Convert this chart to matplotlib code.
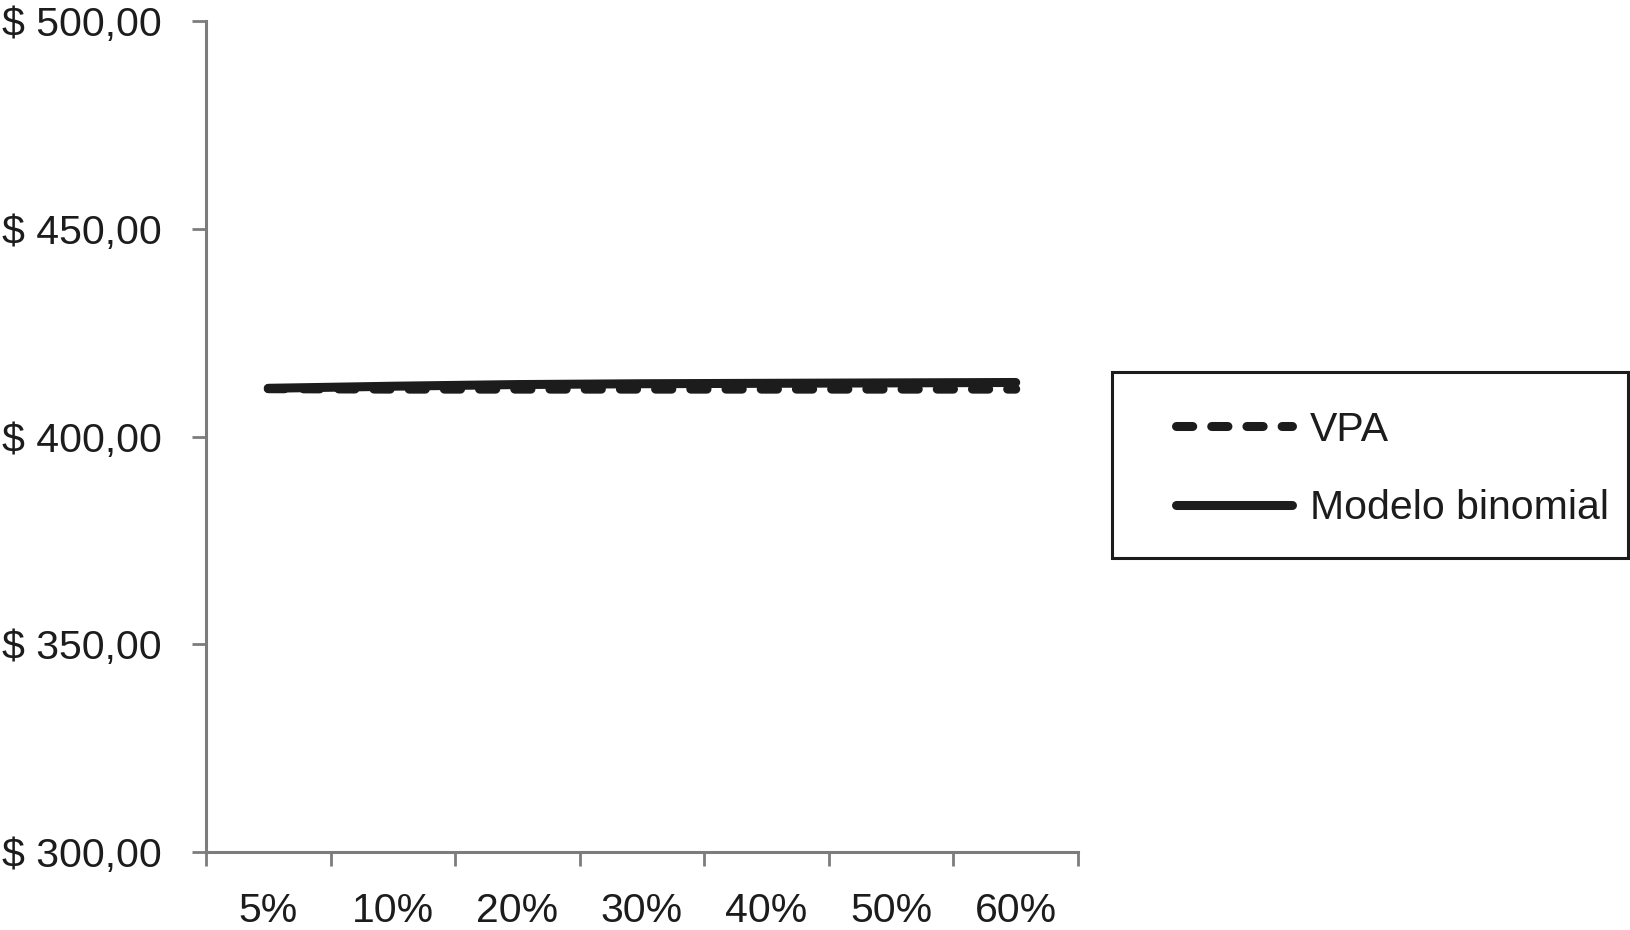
import numpy as np
import matplotlib
matplotlib.use('Agg')
import matplotlib.pyplot as plt
from matplotlib.patches import Rectangle
from matplotlib.ticker import FixedLocator, NullFormatter, FuncFormatter

#Data
categories = ['5%', '10%', '20%', '30%', '40%', '50%', '60%']
vpa        = [411.5, 411.4, 411.4, 411.4, 411.4, 411.4, 411.4]
binomial   = [411.6, 412.1, 412.5, 412.7, 412.8, 412.9, 413.0]
yticks     = [300, 350, 400, 450, 500]

plt.rcParams['font.family'] = ['Liberation Sans', 'DejaVu Sans']

fsize  = 29.5
gray   = '#7c7c7c'
black  = '#1c1c1c'

fig = plt.figure(figsize=(16.3, 9.3), dpi=100)
ax  = fig.add_axes([206/1630, 1-852/930, (1078-206)/1630, (852-21)/930])

x = np.arange(len(categories)) + 0.5

ax.plot(x, vpa, color=black, linewidth=6.5, linestyle=(0, (1.8, 2.1)),
        dash_capstyle='round', solid_capstyle='round', label='VPA', zorder=3)
ax.plot(x, binomial, color=black, linewidth=6.5, solid_capstyle='round',
        label='Modelo binomial', zorder=4)

ax.set_xlim(0, len(categories))
ax.set_ylim(yticks[0], yticks[-1])

#category boundaries as major ticks, labels at centers
ax.xaxis.set_major_locator(FixedLocator(np.arange(len(categories)+1)))
ax.xaxis.set_major_formatter(NullFormatter())
ax.xaxis.set_minor_locator(FixedLocator(x))
ax.set_xticklabels(categories, minor=True)
ax.tick_params(axis='x', which='major', length=10, width=2, color=gray, direction='out')
ax.tick_params(axis='x', which='minor', length=0, pad=29, labelsize=fsize, labelcolor=black)

ax.yaxis.set_major_locator(FixedLocator(yticks))
ax.yaxis.set_major_formatter(FuncFormatter(lambda v, p: '$ %d,00' % v))
ax.tick_params(axis='y', length=10, width=2, color=gray, pad=22, labelsize=fsize, labelcolor=black)

for s in ['top', 'right']:
    ax.spines[s].set_visible(False)
for s in ['left', 'bottom']:
    ax.spines[s].set_color(gray)
    ax.spines[s].set_linewidth(2.2)

#legend box drawn by hand
fig.patches.append(Rectangle((1112/1630, 1-558/930), (1628-1112)/1630, (558-372)/930,
                             transform=fig.transFigure, fill=False, edgecolor=black,
                             linewidth=2.2, zorder=5))

leg = ax.legend(loc='center left', bbox_to_anchor=(1176/1630, 1-469/930),
                bbox_transform=fig.transFigure, frameon=False, fontsize=fsize,
                handlelength=2.82, handletextpad=0.45, labelspacing=1.0,
                borderpad=0, borderaxespad=0)
for t in leg.get_texts():
    t.set_color(black)

plt.savefig('out.png', dpi=100)
